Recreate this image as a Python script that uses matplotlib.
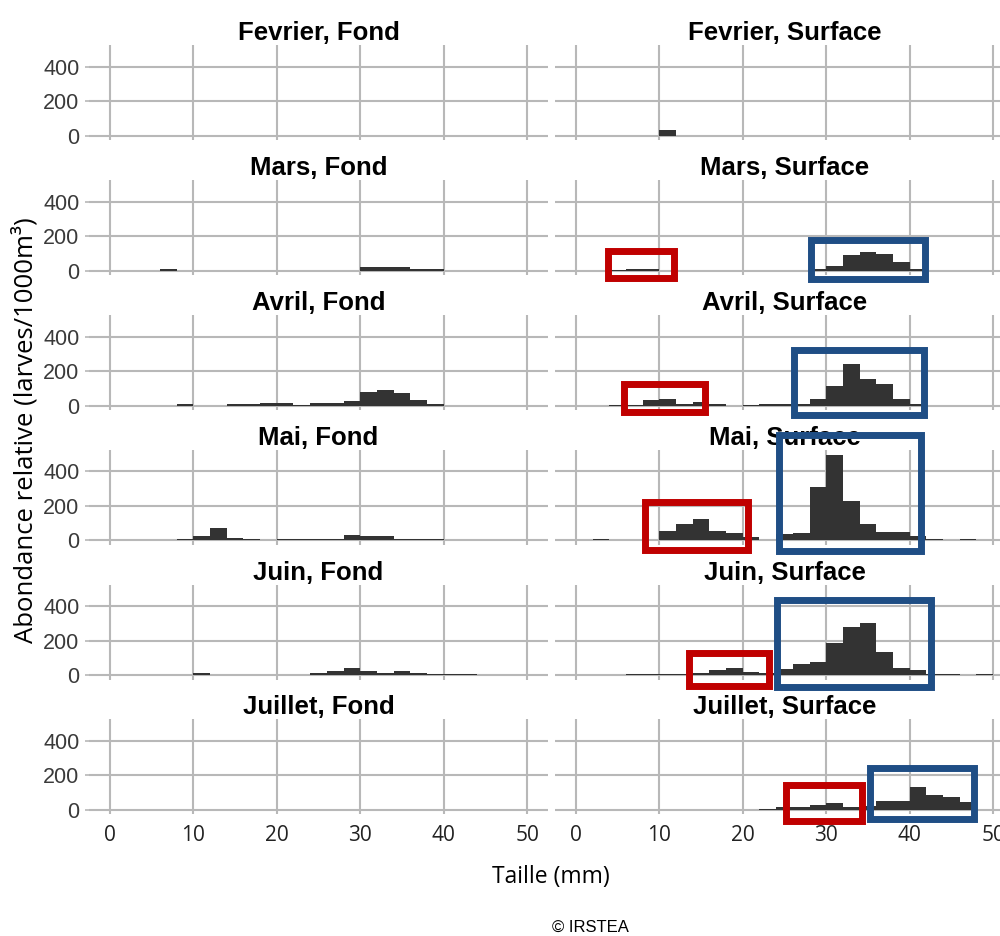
import numpy as np
import matplotlib
matplotlib.use("Agg")
import matplotlib.pyplot as plt
from matplotlib.patches import Rectangle

# classes de taille de 2 mm, de 0 a 50 mm
bin_edges = np.arange(0, 52, 2)
months = ["Fevrier", "Mars", "Avril", "Mai", "Juin", "Juillet"]
depths = ["Fond", "Surface"]

# abondance relative (larves/1000m3) par classe de taille
fevrier_fond = [0, 0, 0, 0, 0, 0, 0, 0, 0, 0, 0, 0, 0, 0, 0, 0, 0, 0, 0, 0, 0, 0, 0, 0, 0]
fevrier_surface = [0, 0, 0, 0, 0, 35, 0, 0, 0, 0, 0, 0, 0, 0, 0, 0, 0, 0, 0, 0, 0, 0, 0, 0, 0]
mars_fond = [0, 0, 0, 12, 0, 0, 0, 0, 0, 0, 0, 0, 0, 0, 0, 20, 20, 20, 10, 10, 0, 0, 0, 0, 0]
mars_surface = [0, 0, 5, 12, 12, 0, 0, 0, 0, 0, 0, 0, 0, 0, 10, 30, 90, 108, 98, 50, 12, 0, 0, 0, 0]
avril_fond = [0, 0, 0, 0, 10, 0, 0, 7, 7, 17, 17, 5, 15, 15, 25, 80, 92, 72, 35, 10, 0, 0, 0, 0, 0]
avril_surface = [0, 0, 5, 6, 30, 40, 12, 20, 12, 0, 5, 12, 8, 12, 40, 115, 240, 155, 125, 40, 12, 0, 0, 0, 0]
mai_fond = [0, 0, 0, 0, 8, 23, 72, 15, 8, 0, 6, 6, 6, 6, 34, 25, 25, 6, 6, 6, 0, 0, 0, 0, 0]
mai_surface = [0, 10, 3, 3, 3, 55, 97, 126, 55, 40, 20, 5, 35, 40, 307, 497, 229, 97, 50, 50, 25, 10, 0, 10, 3]
juin_fond = [0, 0, 0, 0, 0, 15, 0, 0, 0, 0, 0, 0, 13, 23, 44, 25, 13, 25, 13, 7, 7, 7, 0, 0, 0]
juin_surface = [0, 0, 0, 7, 7, 7, 7, 10, 30, 40, 19, 10, 34, 64, 77, 185, 280, 302, 132, 40, 28, 7, 7, 0, 7]
juillet_fond = [0, 0, 0, 0, 0, 0, 0, 0, 0, 0, 0, 0, 0, 0, 0, 0, 0, 0, 0, 0, 0, 0, 0, 0, 0]
juillet_surface = [0, 0, 0, 0, 0, 0, 0, 0, 0, 0, 0, 8, 19, 15, 27, 40, 19, 25, 54, 54, 136, 89, 78, 45, 0]

counts = [
    [fevrier_fond, fevrier_surface],
    [mars_fond, mars_surface],
    [avril_fond, avril_surface],
    [mai_fond, mai_surface],
    [juin_fond, juin_surface],
    [juillet_fond, juillet_surface],
]

# cadres de mise en evidence (taille mm, abondance) sur la colonne Surface
red_boxes = {
    "Mars": (3.8, 11.7, -39, 112),
    "Avril": (5.8, 15.5, -40, 128),
    "Mai": (8.3, 20.6, -53, 225),
    "Juin": (13.5, 23.1, -60, 126),
    "Juillet": (25.2, 34.3, -61, 142),
}
blue_boxes = {
    "Mars": (28.2, 41.8, -50, 176),
    "Avril": (26.1, 41.7, -52, 325),
    "Mai": (24.3, 41.4, -64, 608),
    "Juin": (24.1, 42.6, -71, 433),
    "Juillet": (35.2, 47.7, -55, 241),
}

fig = plt.figure(figsize=(10, 9.36), dpi=100)

sans = ["Liberation Sans", "DejaVu Sans"]
grid_col = "#b8b8b8"
bar_col = "#333333"

row_step = 134.8 / 936
row0_bottom = 1 - 140.3 / 936
ax_h = 94.9 / 936
col_x = [0.089, 0.555]
ax_w = 0.459

for r, month in enumerate(months):
    for c, depth in enumerate(depths):
        ax = fig.add_axes([col_x[c], row0_bottom - r * row_step, ax_w, ax_h])
        ax.bar(bin_edges[:-1], counts[r][c], width=2, align="edge",
               color=bar_col, linewidth=0, zorder=3)
        ax.set_xlim(-2.5, 52.5)
        ax.set_ylim(-25, 525)
        ax.set_xticks([0, 10, 20, 30, 40, 50])
        ax.set_yticks([0, 200, 400])
        ax.grid(True, color=grid_col, linewidth=1.5, zorder=0)
        for s in ax.spines.values():
            s.set_visible(False)
        ax.tick_params(axis="both", length=3, color=grid_col, width=1.2)
        ax.tick_params(axis="x", length=0)
        if c == 0:
            ax.set_yticklabels(["0", "200", "400"], family=sans,
                               fontsize=15.5, color="#3a3a3a")
            ax.tick_params(axis="y", pad=4)
        else:
            ax.tick_params(axis="y", length=0, labelleft=False)
        if r == len(months) - 1:
            ax.set_xticklabels(["0", "10", "20", "30", "40", "50"],
                               family="Open Sans", fontsize=15, color="#222222")
            ax.tick_params(axis="x", pad=8)
        else:
            ax.tick_params(axis="x", labelbottom=False)
        ax.set_title(f"{month}, {depth}", family=sans, fontweight="bold",
                     fontsize=18.5, pad=3)

        if c == 1 and month in red_boxes:
            for box, col in ((red_boxes[month], "#c00000"), (blue_boxes[month], "#1f4e85")):
                x0, x1, y0, y1 = box
                ax.add_patch(Rectangle((x0, y0), x1 - x0, y1 - y0, fill=False,
                                       edgecolor=col, linewidth=5, clip_on=False,
                                       zorder=10, joinstyle="miter"))

fig.text(0.025, 0.54, "Abondance relative (larves/1000m³)", rotation=90,
         ha="center", va="center", family="Open Sans", fontsize=18.5)
fig.text(0.551, 0.063, "Taille (mm)", ha="center", va="center",
         family="Open Sans", fontsize=16.5)
fig.text(0.59, 0.0096, "© IRSTEA", ha="center", va="center",
         family="Liberation Sans", fontsize=12)

fig.savefig("out.png", dpi=100)
